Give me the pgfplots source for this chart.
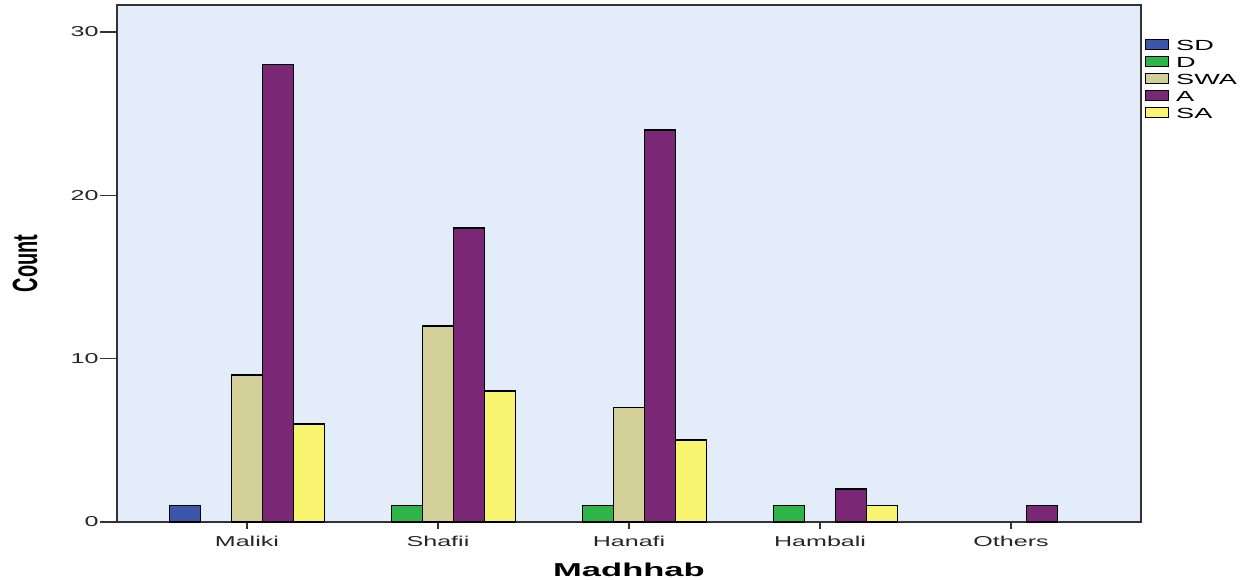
\documentclass[border=0pt]{standalone}
\usepackage{fontspec}
\setmainfont{Liberation Sans}
\newfontfamily\widefont[FakeStretch=1.75]{Liberation Sans}
\newfontfamily\legfont[FakeStretch=1.85]{Liberation Sans}
\newfontfamily\countfont[FakeStretch=0.57]{Liberation Sans}
\newfontfamily\labelfont[FakeStretch=1.85]{Liberation Sans}
\usepackage{pgfplots}
\pgfplotsset{compat=1.18}
\definecolor{cSD}{HTML}{3C56A9}
\definecolor{cD}{HTML}{2DB54A}
\definecolor{cSWA}{HTML}{D3CF99}
\definecolor{cA}{HTML}{7A2876}
\definecolor{cSA}{HTML}{FAF570}
\definecolor{bgc}{HTML}{E2EDF9}
\definecolor{axc}{HTML}{333333}
\pgfplotsset{
  mybar/.style={fill=#1, draw=black, line width=1pt,
    legend image code/.code={\draw[fill=#1, draw=black, line width=0.6pt] (0pt,-3pt) rectangle (13.8pt,3pt);}},
}
\begin{document}
\begin{tikzpicture}
\useasboundingbox (-70.2pt,-34.2pt) rectangle (678pt,313.2pt);
\begin{axis}[
  at={(0,0)}, anchor=south west,
  scale only axis, width=614.4pt, height=310.2pt,
  xmin=-0.68, xmax=4.68, ymin=0, ymax=31.65,
  ybar, bar width=18.6pt,
  xtick={0,1,2,3,4},
  xticklabels={Maliki,Shafii,Hanafi,Hambali,Others},
  ytick={0,10,20,30},
  tick pos=left,
  tick align=outside,
  major tick length=10pt,
  xtick style={/pgfplots/major tick length=4pt, draw=axc, line width=0.9pt},
  ytick style={draw=axc, line width=0.9pt},
  axis background/.style={fill=bgc},
  axis line style={draw=axc, line width=1pt},
  ticklabel style={font=\widefont\fontsize{8.6}{10}\selectfont, text=black!85},
  xticklabel style={yshift=4.8pt},
  yticklabel style={xshift=2.5pt},
  /pgf/number format/assume math mode=true,
  xlabel={Madhhab},
  xlabel style={at={(axis description cs:0.5,0)}, anchor=center, yshift=-28.8pt,
    font=\labelfont\bfseries\fontsize{11.2}{12}\selectfont},
  ylabel={Count},
  ylabel style={at={(axis description cs:-0.0898,0.5)}, anchor=center,
    font=\countfont\bfseries\fontsize{21}{22}\selectfont},
  legend style={at={(axis description cs:1,0.94)}, anchor=north west, xshift=2pt,
    draw=none, fill=none, inner sep=0pt, row sep=0pt,
    font=\legfont\fontsize{8.8}{9}\selectfont,
    nodes={text height=6.2pt, text depth=0pt, inner sep=2pt},
    /tikz/every odd column/.append style={column sep=2.5pt}},
  legend cell align=left,
]
\addplot[mybar=cSD, bar shift=-37.2pt] coordinates {(0,1)};
\addplot[mybar=cD, bar shift=-18.6pt] coordinates {(1,1) (2,1) (3,1)};
\addplot[mybar=cSWA, bar shift=0pt] coordinates {(0,9) (1,12) (2,7)};
\addplot[mybar=cA, bar shift=18.6pt] coordinates {(0,28) (1,18) (2,24) (3,2) (4,1)};
\addplot[mybar=cSA, bar shift=37.2pt] coordinates {(0,6) (1,8) (2,5) (3,1)};
\legend{SD,D,SWA,A,SA}
\end{axis}
\end{tikzpicture}
\end{document}
